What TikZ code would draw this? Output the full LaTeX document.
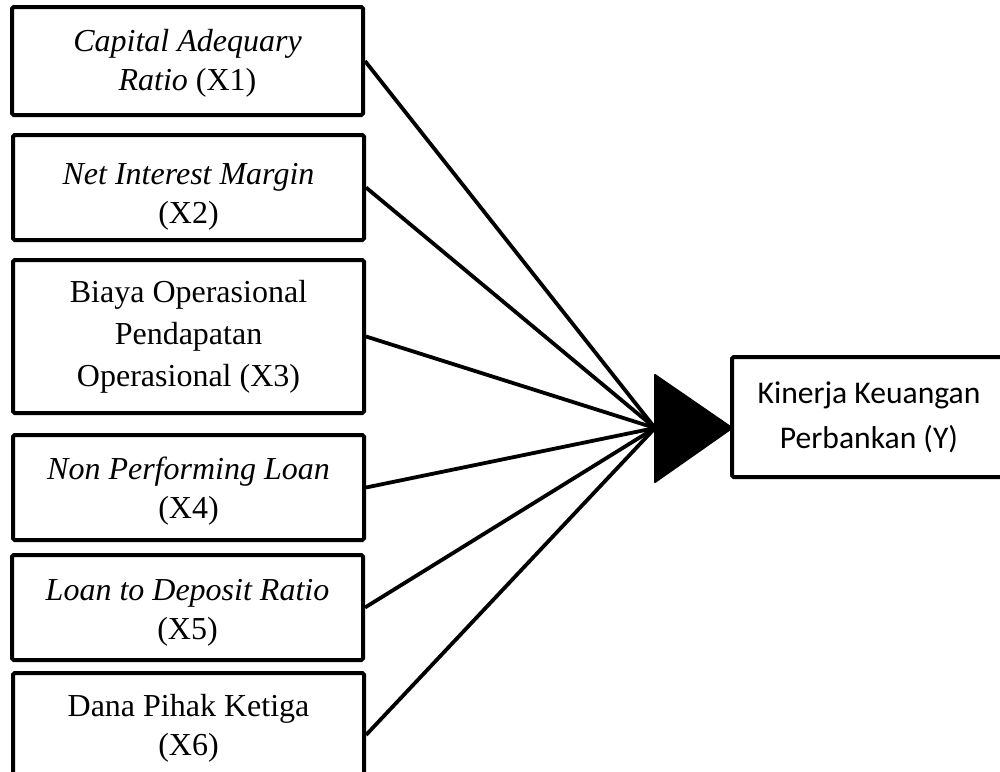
\documentclass[tikz,border=0pt]{standalone}
\usepackage{fontspec}
\usetikzlibrary{calc}
\setmainfont{Liberation Serif}
\newfontfamily\calib{Carlito}
\tikzset{
  varbox/.style={draw, line width=2pt, rounded corners=0.8pt, minimum width=175.5pt, inner sep=0pt},
  vartext/.style={align=center, inner sep=0pt, font=\fontsize{16}{19.5}\selectfont},
  ybox/.style={draw, line width=2pt, rounded corners=0.8pt, minimum width=137pt, minimum height=60pt, align=center, inner sep=0pt, font=\calib\fontsize{15.8}{22.5}\selectfont},
  link/.style={line width=1.9pt},
  head/.style={fill=black, draw=black, line width=1pt, line join=round}
}
\begin{document}
\begin{tikzpicture}[x=0.5pt,y=-0.5pt]
\useasboundingbox (0,0) rectangle (1000,771);
\clip (0,0) rectangle (1000,771);
\node[varbox, minimum height=54pt] (b1) at (187.5,61) {};
\node[varbox, minimum height=52.5pt] (b2) at (188.5,187.5) {};
\node[varbox, minimum height=76.5pt] (b3) at (188.5,336.5) {};
\node[varbox, minimum height=52.5pt] (b4) at (188.5,487.5) {};
\node[varbox, minimum height=52.5pt] (b5) at (187.5,607.5) {};
\node[varbox, minimum height=56pt] (b6) at (188.5,729) {};
\node[vartext] (t1) at ($(b1.center)+(0,2)$) {\textit{Capital Adequary}\\\textit{Ratio} (X1)};
\node[vartext] (t2) at ($(b2.center)+(0,9)$) {\textit{Net Interest Margin}\\(X2)};
\node[vartext, font=\fontsize{16}{21}\selectfont] (t3) at (b3.center) {Biaya Operasional\\Pendapatan\\Operasional (X3)};
\node[vartext] (t4) at ($(b4.center)+(0,4)$) {\textit{Non Performing Loan}\\(X4)};
\node[vartext] (t5) at ($(b5.center)+(0,5)$) {\textit{Loan to Deposit Ratio}\\(X5)};
\node[vartext] (t6) at ($(b6.center)+(0,-1)$) {Dana Pihak Ketiga\\(X6)};
\node[ybox] (y) at (869,417) {Kinerja Keuangan\\Perbankan (Y)};
\coordinate (conv) at (655,428);
\coordinate (tip) at (732,428);
\coordinate (tt) at (655,375);
\coordinate (tb) at (655,482);
\foreach \b in {b1,b2,b3,b4,b5} \draw[link] (\b.east) -- (conv);
\draw[link] ([yshift=-3pt]b6.east) -- (conv);
\filldraw[head] (tt) -- (tip) -- (tb) -- cycle;
\end{tikzpicture}
\end{document}
